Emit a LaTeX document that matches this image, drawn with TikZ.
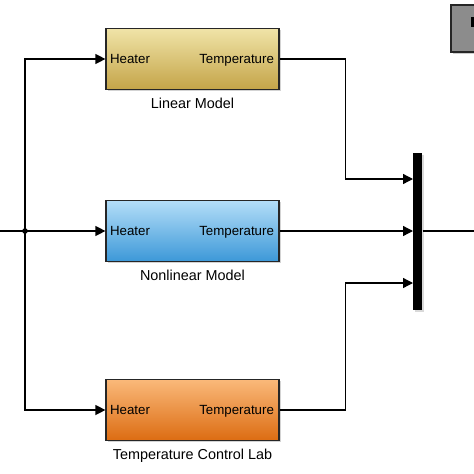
\documentclass[tikz,border=0pt]{standalone}
\usepackage{fontspec}
\setmainfont{Liberation Sans}
\usepackage{xcolor}
\usepackage{tikz}
\usetikzlibrary{arrows.meta,positioning,shadows}

\definecolor{linTop}{HTML}{F0E4A8}
\definecolor{linBot}{HTML}{C4A448}
\definecolor{nlTop}{HTML}{B4DEF8}
\definecolor{nlBot}{HTML}{3C98D8}
\definecolor{tclTop}{HTML}{FAB97A}
\definecolor{tclBot}{HTML}{DC6C12}

\begin{document}
\begin{tikzpicture}[
    x=1pt,y=-1pt,
    >={Triangle[length=10pt,width=10pt]},
    line width=1.3pt,
    block/.style={
        draw=black!85,
        line width=1.2pt,
        minimum width=173pt,
        minimum height=61pt,
        drop shadow={shadow xshift=1.5pt,shadow yshift=-1.5pt,opacity=0.35}
    },
    port/.style={font=\fontsize{13.3}{15}\selectfont, inner sep=0pt},
    lbl/.style={font=\fontsize{14.4}{16}\selectfont, inner sep=0pt}
]
\clip (0,0) rectangle (474,474);

% models
\node[block, top color=linTop, bottom color=linBot] (lin)    at (192.5,59)  {};
\node[block, top color=nlTop,  bottom color=nlBot]  (nonlin) at (192.5,231) {};
\node[block, top color=tclTop, bottom color=tclBot] (tcl)    at (192.5,410) {};

\foreach \b in {lin,nonlin,tcl} {
    \node[port, anchor=mid west] at ([xshift=4pt,yshift=-1.5pt]\b.west) {Heater};
    \node[port, anchor=mid east] at ([xshift=-5pt,yshift=-1.5pt]\b.east) {Temperature};
}

\node[lbl, below=7pt of lin]    {Linear Model};
\node[lbl, below=7pt of nonlin] {Nonlinear Model};
\node[lbl, below=7pt of tcl]    {Temperature Control Lab};

% mux
\node[fill=black, minimum width=9pt, minimum height=157pt, inner sep=0pt,
      drop shadow={shadow xshift=1.5pt,shadow yshift=-1.5pt,opacity=0.3}] (mux) at (417.5,231.5) {};
\coordinate (m1) at (413,179);
\coordinate (m2) at (413,231);
\coordinate (m3) at (413,283);

% scope block (cut off)
\node[draw=black!85, fill=black!45, line width=1.2pt, minimum width=40pt, minimum height=47pt,
      drop shadow={shadow xshift=2pt,shadow yshift=-2pt,opacity=0.4}] (scope) at (471,28.5) {};
\fill[black] (471,17) rectangle (476,27);

% wires
\coordinate (in)  at (0,231);
\coordinate (out) at (474,231);
\coordinate (split) at (25,231);

\draw (in) -- (split);
\fill (split) circle (2.8pt);
\draw[->] (split) -- (nonlin.west);
\draw[->] (split) |- (lin.west);
\draw[->] (split) |- (tcl.west);

\draw[->] (lin.east) -- ++(66,0) |- (m1);
\draw[->] (nonlin.east) -- (m2);
\draw[->] (tcl.east) -- ++(66,0) |- (m3);
\draw (mux.east |- out) -- (out);

\end{tikzpicture}
\end{document}
